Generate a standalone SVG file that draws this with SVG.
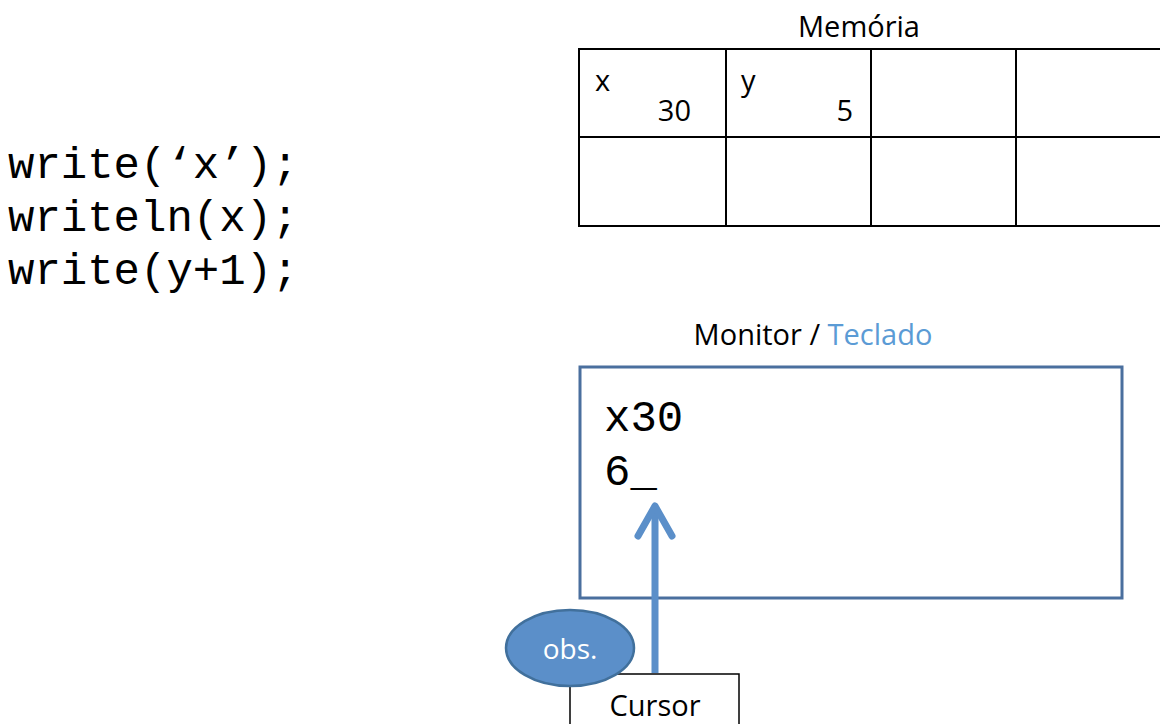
<svg xmlns="http://www.w3.org/2000/svg" width="1160" height="724" viewBox="0 0 1160 724">
<style>
.sans{font-family:"Open Sans","Liberation Sans",sans-serif;font-size:29px;fill:#000}
.mono{font-family:"Liberation Mono","Courier New",monospace;font-size:44px;fill:#000}
.cell{fill:#fff;stroke:#000;stroke-width:2}
</style>
<rect width="1160" height="724" fill="#fff"/>
<g id="code">
<text class="mono" x="8" y="178">write(‘x’);</text>
<text class="mono" x="8" y="231">writeln(x);</text>
<text class="mono" x="8" y="284">write(y+1);</text>
</g>
<g id="memoria">
<text class="sans" x="859" y="37" text-anchor="middle">Memória</text>
<rect class="cell" x="579" y="49" width="147" height="88"/>
<rect class="cell" x="726" y="49" width="145" height="88"/>
<rect class="cell" x="871" y="49" width="145" height="88"/>
<rect class="cell" x="1016" y="49" width="150" height="88"/>
<rect class="cell" x="579" y="137" width="147" height="89"/>
<rect class="cell" x="726" y="137" width="145" height="89"/>
<rect class="cell" x="871" y="137" width="145" height="89"/>
<rect class="cell" x="1016" y="137" width="150" height="89"/>
<text class="sans" x="595" y="91">x</text>
<text class="sans" x="691" y="121" text-anchor="end">30</text>
<text class="sans" x="741" y="91">y</text>
<text class="sans" x="853" y="121" text-anchor="end">5</text>
</g>
<g id="monitor">
<text class="sans" x="813" y="345" text-anchor="middle">Monitor / <tspan fill="#5b9bd5">Teclado</tspan></text>
<rect x="580" y="367" width="542" height="231" fill="#fff" stroke="#4a6f9e" stroke-width="3"/>
<text class="mono" x="604" y="431">x30</text>
<text class="mono" x="604" y="485">6_</text>
</g>
<g id="cursor">
<rect x="570" y="674" width="169" height="60" fill="#fff" stroke="#000" stroke-width="1.5"/>
<text class="sans" x="655" y="716" text-anchor="middle">Cursor</text>
</g>
<g id="connectors">
<line x1="655" y1="673" x2="655" y2="508" stroke="#5b8fc9" stroke-width="7"/>
<polyline points="638,536 655,506 672,536" fill="none" stroke="#5b8fc9" stroke-width="7" stroke-linecap="round" stroke-linejoin="round"/>
</g>
<g id="obs">
<ellipse cx="570" cy="648" rx="64" ry="38" fill="#5b8fc9" stroke="#41709c" stroke-width="2.5"/>
<text class="sans" x="570" y="659" text-anchor="middle" font-size="28" fill="#fff" style="fill:#fff;font-size:28px">obs.</text>
</g>
</svg>
